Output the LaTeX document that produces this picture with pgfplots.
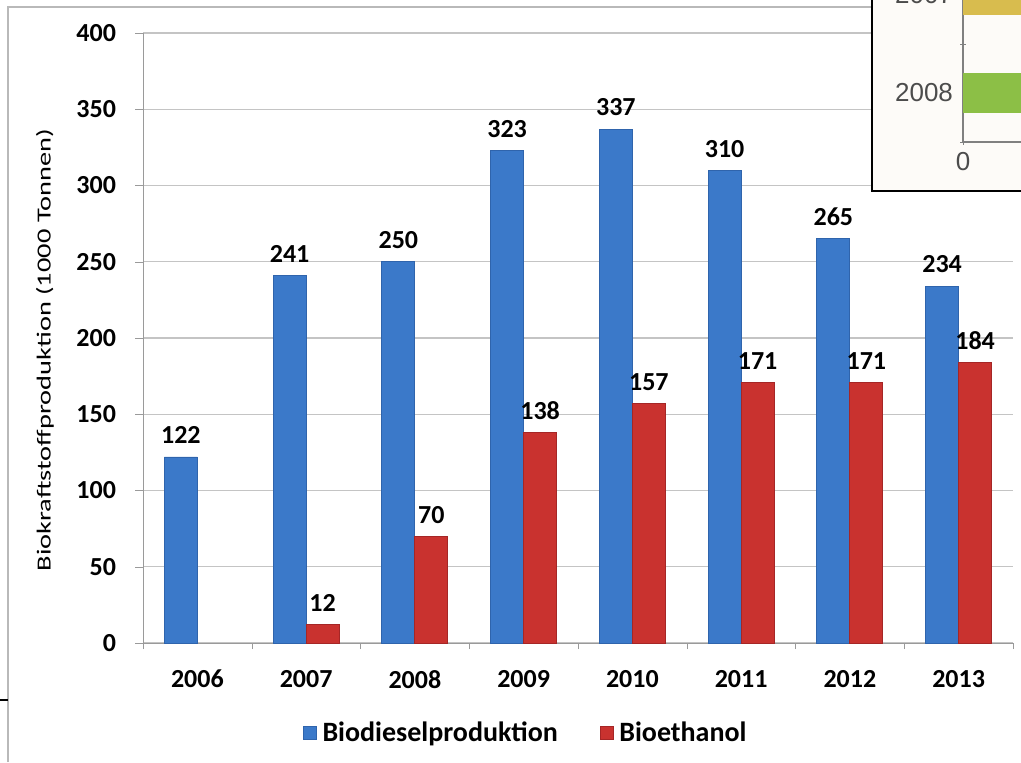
\documentclass[border=0pt]{standalone}
\usepackage{pgfplots}
\pgfplotsset{compat=1.18}
\usepackage{fontspec}
\setmainfont{Carlito}
\newfontfamily\arialfont{Liberation Sans}

\definecolor{blueM}{HTML}{3B79C9}
\definecolor{blueD}{HTML}{2F64AC}
\definecolor{redM}{HTML}{C9322F}
\definecolor{redD}{HTML}{A52626}
\definecolor{gridgray}{HTML}{C4C4C4}
\definecolor{axisgray}{HTML}{9A9A9A}
\definecolor{insetbg}{HTML}{FDFBF8}
\definecolor{insetgreen}{HTML}{8CBF46}
\definecolor{insetyellow}{HTML}{D8BC4E}

\newcommand{\lbl}{\bfseries\fontsize{13}{15}\selectfont}

\begin{document}
\begin{tikzpicture}[x=1pt,y=1pt]
\path[use as bounding box] (0,0) rectangle (510.5,381);
\clip (0,0) rectangle (510.5,381);

% outer frame of the slide
\draw[gray!55, line width=0.8pt] (4,0) -- (4,377.5) -- (520,377.5);
\draw[black, line width=0.8pt] (0,31) -- (4,31);

\begin{axis}[
  at={(71.5pt,59.5pt)}, anchor=south west,
  scale only axis, width=435pt, height=305pt,
  xmin=-0.5, xmax=7.5, ymin=0, ymax=400,
  xtick={0,...,7},
  xticklabels={2006,2007,2008,2009,2010,2011,2012,2013},
  minor xtick={-0.5,0.5,...,7.5},
  ytick={0,50,...,400},
  ybar=0pt, bar width=16.5pt,
  axis lines=left, axis line style={-, draw=axisgray},
  ymajorgrids, grid style={gridgray, line width=0.6pt},
  tick align=outside, major tick length=4pt, minor tick length=3pt,
  major x tick style={draw=none},
  minor x tick style={draw=axisgray},
  ytick style={draw=axisgray},
  /pgf/number format/assume math mode=true,
  tick label style={font=\lbl},
  xticklabel style={yshift=-6pt},
  yticklabel style={xshift=-6pt},
  ylabel={\scalebox{1.42}[1]{Biokraftstoffproduktion (1000 Tonnen)}},
  ylabel style={font=\fontsize{10.5}{12}\selectfont, text=black!85},
  every axis y label/.style={at={(axis description cs:-0.1126,0.48)}, rotate=90, anchor=center},
  nodes near coords,
  every node near coord/.append style={font=\lbl, black, anchor=south, yshift=3pt},
  legend style={at={(0.441,-0.1475)}, anchor=center, draw=none, fill=none,
    legend columns=2, font=\bfseries\fontsize{14}{16}\selectfont,
    /tikz/every even column/.append style={column sep=19pt},
    /tikz/every odd column/.append style={column sep=1pt}},
  legend image code/.code={\fill[#1] (0pt,-3.2pt) rectangle (6.4pt,3.2pt);},
]
\addplot[fill=blueM, draw=blueD, line width=0.4pt] coordinates {
  (0,122) (1,241) (2,250) (3,323) (4,337) (5,310) (6,265) (7,234)
};
\addplot[fill=redM, draw=redD, line width=0.4pt] coordinates {
  (1,12) (2,70) (3,138) (4,157) (5,171) (6,171) (7,184)
};
\legend{Biodieselproduktion, Bioethanol}
\end{axis}

% overlapping inset from another slide
\draw[black, line width=1pt, fill=insetbg] (436,285.5) rectangle (530,400);

\begin{axis}[
  at={(481.5pt,310pt)}, anchor=south west,
  scale only axis, width=100pt, height=98pt,
  xmin=0, xmax=100, ymin=-0.5, ymax=1.5,
  xtick={0}, ytick={0,1}, yticklabels={2008,2007},
  minor ytick={-0.5,0.5,1.5},
  axis lines=left, axis line style={-, draw=gray, line width=0.8pt},
  major y tick style={draw=none},
  minor y tick style={draw=gray},
  xtick style={draw=gray},
  tick align=center, major tick length=3pt, minor tick length=3pt,
  /pgf/number format/assume math mode=true,
  tick label style={font=\arialfont\fontsize{13}{15}\selectfont, text=black!70},
]
\addplot[xbar, bar shift=0pt, bar width=20pt, draw=none, fill=insetgreen] coordinates {(90,0)};
\addplot[xbar, bar shift=0pt, bar width=20pt, draw=none, fill=insetyellow] coordinates {(90,1)};
\end{axis}
\end{tikzpicture}
\end{document}
